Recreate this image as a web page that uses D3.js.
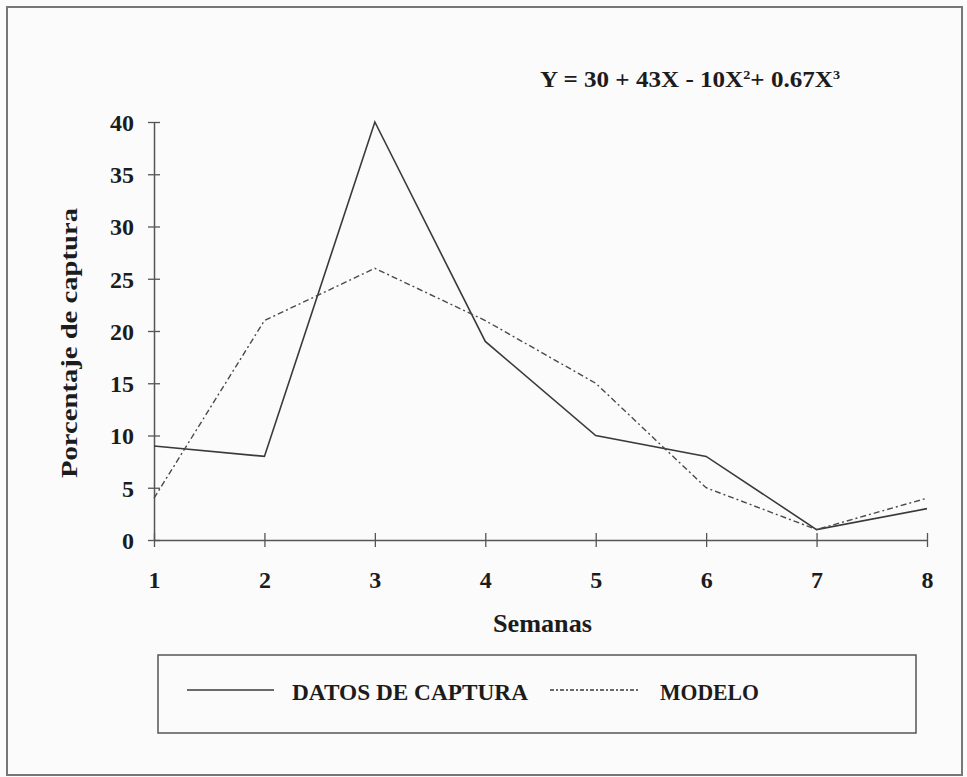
<!DOCTYPE html>
<html>
<head>
<meta charset="utf-8">
<script src="https://cdn.jsdelivr.net/npm/d3@7"></script>
<style>
  body { margin: 0; background: #fbfbfb; }
  text { font-family: "Liberation Serif", "Times New Roman", serif; font-weight: bold; fill: #1c1c1c; }
</style>
</head>
<body>
<svg id="chart" width="967" height="777"></svg>
<script>
// values
var semanas = [1, 2, 3, 4, 5, 6, 7, 8];
var datosCaptura = [9, 8, 40, 19, 10, 8, 1, 3];
var modelo = [4, 21, 26, 21, 15, 5, 1, 4];
var yTicks = [0, 5, 10, 15, 20, 25, 30, 35, 40];

var svg = d3.select("#chart");

// outer frame of the scanned figure
svg.append("rect")
   .attr("x", 7).attr("y", 7)
   .attr("width", 955).attr("height", 768)
   .attr("fill", "none")
   .attr("stroke", "#777")
   .attr("stroke-width", 2);

var x = d3.scaleLinear().domain([1, 8]).range([154, 927]);
var y = d3.scaleLinear().domain([0, 40]).range([540, 122]);

// y axis
var yAxis = d3.axisLeft(y).tickValues(yTicks).tickFormat(d3.format("d")).tickSize(0).tickPadding(20);
var gy = svg.append("g").attr("transform", "translate(154,0)").call(yAxis);
gy.select(".domain").attr("stroke", "#555").attr("stroke-width", 1.5);
gy.selectAll(".tick text").style("font-size", "24px").attr("dy", "0.35em");
// small crossing ticks
gy.selectAll(".tick").append("line")
  .attr("x1", -6).attr("x2", 6).attr("stroke", "#555").attr("stroke-width", 1.3);

// x axis
var xAxis = d3.axisBottom(x).tickValues(semanas).tickFormat(d3.format("d")).tickSize(0).tickPadding(31);
var gx = svg.append("g").attr("transform", "translate(0,540)").call(xAxis);
gx.select(".domain").attr("stroke", "#555").attr("stroke-width", 1.5);
gx.selectAll(".tick text").style("font-size", "24px");
gx.selectAll(".tick").append("line")
  .attr("y1", -7).attr("y2", 7).attr("stroke", "#555").attr("stroke-width", 1.3);

var line = d3.line()
  .x(function(d, i) { return x(semanas[i]); })
  .y(function(d) { return y(d); });

svg.append("path")
   .datum(datosCaptura)
   .attr("d", line)
   .attr("fill", "none")
   .attr("stroke", "#3a3a3a")
   .attr("stroke-width", 1.6);

svg.append("path")
   .datum(modelo)
   .attr("d", line)
   .attr("fill", "none")
   .attr("stroke", "#4a4a4a")
   .attr("stroke-width", 1.4)
   .attr("stroke-dasharray", "6,3,2,3");

// axis titles
svg.append("text")
   .attr("x", 493).attr("y", 632)
   .attr("textLength", 99).attr("lengthAdjust", "spacingAndGlyphs")
   .style("font-size", "25px")
   .text("Semanas");

svg.append("text")
   .attr("transform", "translate(77,478) rotate(-90)")
   .attr("textLength", 270).attr("lengthAdjust", "spacingAndGlyphs")
   .style("font-size", "24px")
   .text("Porcentaje de captura");

// equation
var eq = svg.append("text")
   .attr("x", 540).attr("y", 87)
   .attr("textLength", 300).attr("lengthAdjust", "spacingAndGlyphs")
   .style("font-size", "23px");
eq.append("tspan").text("Y = 30 + 43X - 10X");
eq.append("tspan").attr("dy", -8).style("font-size", "13px").text("2");
eq.append("tspan").attr("dy", 8).text("+ 0.67X");
eq.append("tspan").attr("dy", -8).style("font-size", "13px").text("3");

// legend
svg.append("rect")
   .attr("x", 158).attr("y", 655)
   .attr("width", 758).attr("height", 78)
   .attr("fill", "none")
   .attr("stroke", "#555")
   .attr("stroke-width", 1.5);

var legend = [
  { name: "DATOS DE CAPTURA", x1: 187, x2: 274, tx: 292, tw: 236, dash: null, w: 1.6 },
  { name: "MODELO", x1: 550, x2: 640, tx: 660, tw: 99, dash: "4,2,2,2", w: 1.4 }
];

legend.forEach(function(l) {
  svg.append("line")
     .attr("x1", l.x1).attr("x2", l.x2)
     .attr("y1", 690).attr("y2", 690)
     .attr("stroke", "#3a3a3a")
     .attr("stroke-width", l.w)
     .attr("stroke-dasharray", l.dash);
  svg.append("text")
     .attr("x", l.tx).attr("y", 700)
     .attr("textLength", l.tw).attr("lengthAdjust", "spacingAndGlyphs")
     .style("font-size", "24px")
     .text(l.name);
});
</script>
</body>
</html>
